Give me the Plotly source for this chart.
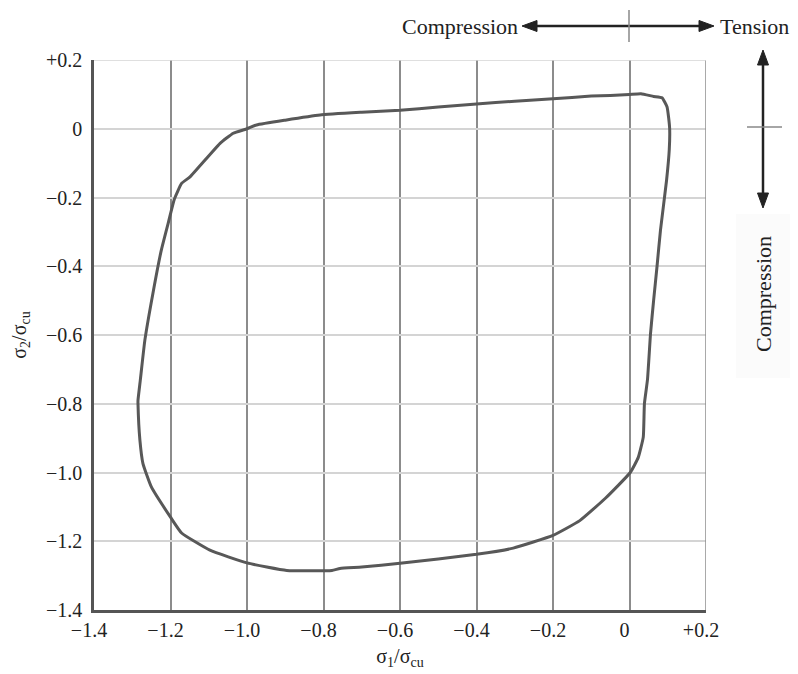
import plotly.graph_objects as go

# Failure envelope (sigma1/sigma_cu, sigma2/sigma_cu), traced clockwise
s1 = [-0.975, -0.90, -0.809, -0.70, -0.60, -0.50, -0.40, -0.30, -0.20, -0.10, -0.05,
      0.00, 0.03, 0.063, 0.085, 0.098, 0.102, 0.105, 0.104, 0.097, 0.081, 0.072, 0.063,
      0.055, 0.047, 0.039, 0.036, 0.023, 0.002, -0.063, -0.130, -0.200, -0.304, -0.400,
      -0.600, -0.700, -0.757, -0.778, -0.896, -1.000, -1.097, -1.171, -1.200, -1.250,
      -1.272, -1.280, -1.285, -1.285, -1.279, -1.267, -1.246, -1.224, -1.205, -1.190,
      -1.171, -1.149, -1.071, -1.036, -1.000, -0.975]
s2 = [0.011, 0.025, 0.040, 0.048, 0.054, 0.063, 0.072, 0.080, 0.087, 0.095, 0.097,
      0.100, 0.102, 0.094, 0.090, 0.064, 0.035, 0.000, -0.060, -0.149, -0.295, -0.400, -0.500,
      -0.595, -0.730, -0.800, -0.897, -0.956, -1.000, -1.075, -1.140, -1.183, -1.220, -1.238,
      -1.264, -1.275, -1.279, -1.285, -1.285, -1.263, -1.226, -1.176, -1.130, -1.042,
      -0.974, -0.906, -0.800, -0.790, -0.732, -0.615, -0.479, -0.353, -0.270, -0.205,
      -0.159, -0.140, -0.043, -0.013, 0.000, 0.011]

tick_vals = [-1.4, -1.2, -1.0, -0.8, -0.6, -0.4, -0.2, 0.0, 0.2]
tick_text = ["\u22121.4", "\u22121.2", "\u22121.0", "\u22120.8", "\u22120.6",
             "\u22120.4", "\u22120.2", "0", "+0.2"]

FONT = "Liberation Serif"
OFF = 8  # page body margin
W, H = 798 - OFF, 674 - OFF
L, R, T, B = 94 - OFF, 92, 60 - OFF, 64
PW, PH = W - L - R, H - T - B


def px(x):
    return (x - OFF - L) / PW


def py(y):
    return (H + OFF - B - y) / PH


fig = go.Figure()
fig.add_trace(go.Scatter(x=s1, y=s2, mode="lines",
                         line=dict(color="#585858", width=3, shape="spline", smoothing=0.4),
                         showlegend=False, hoverinfo="skip"))

fig.update_xaxes(range=[-1.4, 0.2], tickvals=tick_vals, ticktext=tick_text,
                 showgrid=True, gridcolor="#8c8c8c", gridwidth=1.5, automargin=False,
                 zeroline=False, showline=True, linecolor="#555555", linewidth=2.5,
                 ticks="", ticklabelshift=-5,
                 tickfont=dict(family=FONT, size=20, color="#222"),
                 title=dict(text="\u03c3<sub>1</sub>/\u03c3<sub>cu</sub>",
                            font=dict(family=FONT, size=20, color="#222"), standoff=10))
fig.update_yaxes(range=[-1.4, 0.2], tickvals=tick_vals, ticktext=tick_text,
                 showgrid=True, gridcolor="#d4d4d4", gridwidth=1.5, automargin=False,
                 zeroline=False, showline=True, linecolor="#555555", linewidth=2.5,
                 ticks="", ticklabelstandoff=5,
                 tickfont=dict(family=FONT, size=20, color="#222"),
                 title=dict(text="\u03c3<sub>2</sub>/\u03c3<sub>cu</sub>",
                            font=dict(family=FONT, size=20, color="#222"), standoff=22))

AC = "#222222"
shapes = [
    # right and top border lines (gridlines at +0.2)
    dict(type="line", xref="x", yref="paper", x0=0.2, x1=0.2, y0=0, y1=1,
         line=dict(color="#8c8c8c", width=1.5)),
    dict(type="line", xref="paper", yref="y", x0=0, x1=1, y0=0.2, y1=0.2,
         line=dict(color="#d4d4d4", width=1.5)),
    # faint box behind right label
    dict(type="rect", xref="paper", yref="paper", x0=px(736), x1=px(800), y0=py(378), y1=py(214),
         fillcolor="#fbfbfb", line=dict(width=0), layer="below"),
    # horizontal double arrow
    dict(type="line", xref="paper", yref="paper", x0=px(532), x1=px(704), y0=py(26), y1=py(26),
         line=dict(color=AC, width=2.5)),
    dict(type="path", xref="paper", yref="paper",
         path=f"M {px(522)} {py(26)} L {px(537)} {py(20.5)} L {px(537)} {py(31.5)} Z",
         fillcolor=AC, line=dict(color=AC, width=1)),
    dict(type="path", xref="paper", yref="paper",
         path=f"M {px(714)} {py(26)} L {px(699)} {py(20.5)} L {px(699)} {py(31.5)} Z",
         fillcolor=AC, line=dict(color=AC, width=1)),
    dict(type="line", xref="paper", yref="paper", x0=px(629), x1=px(629), y0=py(42), y1=py(10),
         line=dict(color="#888888", width=1.5)),
    # vertical double arrow
    dict(type="line", xref="paper", yref="paper", x0=px(763), x1=px(763), y0=py(60), y1=py(198),
         line=dict(color=AC, width=2.5)),
    dict(type="path", xref="paper", yref="paper",
         path=f"M {px(763)} {py(50)} L {px(757.5)} {py(65)} L {px(768.5)} {py(65)} Z",
         fillcolor=AC, line=dict(color=AC, width=1)),
    dict(type="path", xref="paper", yref="paper",
         path=f"M {px(763)} {py(208)} L {px(757.5)} {py(193)} L {px(768.5)} {py(193)} Z",
         fillcolor=AC, line=dict(color=AC, width=1)),
    dict(type="line", xref="paper", yref="paper", x0=px(747), x1=px(782), y0=py(127), y1=py(127),
         line=dict(color="#888888", width=1.5)),
]

annotations = [
    dict(xref="paper", yref="paper", x=px(520), y=py(26), text="Compression", showarrow=False,
         xanchor="right", yanchor="middle", font=dict(family=FONT, size=22, color="#222")),
    dict(xref="paper", yref="paper", x=px(718), y=py(26), text="Tension", showarrow=False,
         xanchor="left", yanchor="middle", font=dict(family=FONT, size=22, color="#222")),
    dict(xref="paper", yref="paper", x=px(763), y=py(294), text="Compression", showarrow=False,
         textangle=-90, xanchor="center", yanchor="middle",
         font=dict(family=FONT, size=22, color="#222")),
]

fig.update_layout(width=W, height=H,
                  margin=dict(l=L, r=R, t=T, b=B, autoexpand=False),
                  paper_bgcolor="white", plot_bgcolor="white",
                  shapes=shapes, annotations=annotations)

fig.write_html("out.html")
